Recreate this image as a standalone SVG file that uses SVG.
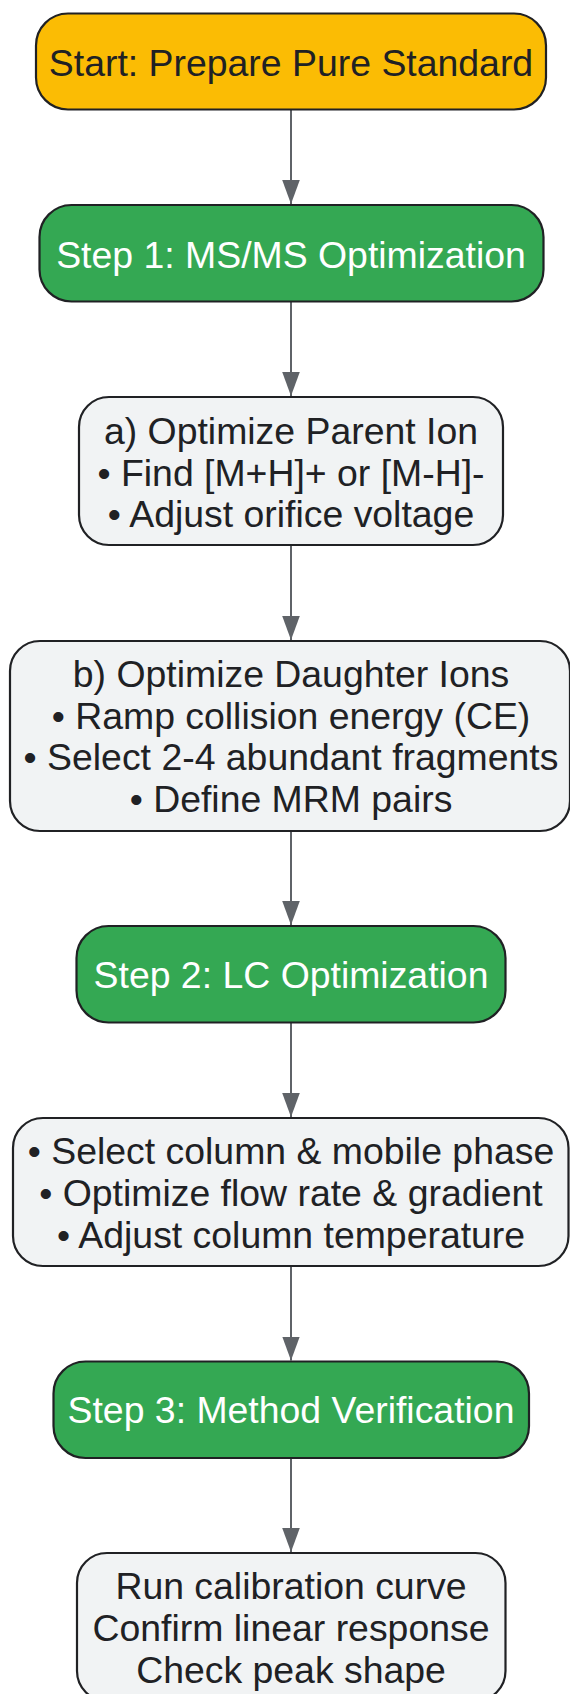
<svg xmlns="http://www.w3.org/2000/svg" width="570" height="1694" viewBox="0 0 570 1694">
  <style>
    .box { stroke: #202124; stroke-width: 2.2; }
    .start { fill: #FBBC04; }
    .step { fill: #34A853; }
    .info { fill: #F1F3F4; }
    text { font-family: "Liberation Sans", Arial, sans-serif; font-size: 37.4px; text-anchor: middle; }
    .dark { fill: #202124; }
    .light { fill: #FFFFFF; }
    .edge { stroke: #5F6368; stroke-width: 2; fill: none; }
  </style>
  <defs>
    <marker id="arrow" markerUnits="userSpaceOnUse" markerWidth="24" markerHeight="32" refX="30" refY="11" orient="auto-start-reverse" viewBox="0 0 30 22">
      <path d="M0,0 L30,11 L0,22 Z" fill="#5F6368"/>
    </marker>
  </defs>
  <rect width="570" height="1694" fill="#FFFFFF"/>
  <g id="connectors">
    <line class="edge" x1="291" y1="109.5" x2="291" y2="204" marker-end="url(#arrow)"/>
    <line class="edge" x1="291" y1="301.5" x2="291" y2="396" marker-end="url(#arrow)"/>
    <line class="edge" x1="291" y1="545" x2="291" y2="640" marker-end="url(#arrow)"/>
    <line class="edge" x1="291" y1="831" x2="291" y2="925" marker-end="url(#arrow)"/>
    <line class="edge" x1="291" y1="1022.5" x2="291" y2="1117" marker-end="url(#arrow)"/>
    <line class="edge" x1="291" y1="1266" x2="291" y2="1360.5" marker-end="url(#arrow)"/>
    <line class="edge" x1="291" y1="1458" x2="291" y2="1552" marker-end="url(#arrow)"/>
  </g>
  <g id="start">
    <rect class="box start" x="36" y="13.5" width="510" height="96" rx="32"/>
    <text class="dark" x="291" y="76">Start: Prepare Pure Standard</text>
  </g>
  <g id="step1">
    <rect class="box step" x="39.5" y="205" width="504" height="96.5" rx="32"/>
    <text class="light" x="291" y="267.5">Step 1: MS/MS Optimization</text>
  </g>
  <g id="parent-ion">
    <rect class="box info" x="79" y="397" width="424" height="148" rx="30"/>
    <text class="dark" x="291" y="444">a) Optimize Parent Ion</text>
    <text class="dark" x="291" y="485.5">• Find [M+H]+ or [M-H]-</text>
    <text class="dark" x="291" y="527">• Adjust orifice voltage</text>
  </g>
  <g id="daughter-ions">
    <rect class="box info" x="10" y="641" width="560" height="190" rx="30"/>
    <text class="dark" x="291" y="687">b) Optimize Daughter Ions</text>
    <text class="dark" x="291" y="728.5">• Ramp collision energy (CE)</text>
    <text class="dark" x="291" y="770">• Select 2-4 abundant fragments</text>
    <text class="dark" x="291" y="811.5">• Define MRM pairs</text>
  </g>
  <g id="step2">
    <rect class="box step" x="76.5" y="926" width="429" height="96.5" rx="32"/>
    <text class="light" x="291" y="988">Step 2: LC Optimization</text>
  </g>
  <g id="lc-details">
    <rect class="box info" x="13" y="1118" width="555.5" height="148" rx="30"/>
    <text class="dark" x="291" y="1164">• Select column &amp; mobile phase</text>
    <text class="dark" x="291" y="1206">• Optimize flow rate &amp; gradient</text>
    <text class="dark" x="291" y="1247.5">• Adjust column temperature</text>
  </g>
  <g id="step3">
    <rect class="box step" x="53.5" y="1361.5" width="475.5" height="96.5" rx="32"/>
    <text class="light" x="291" y="1423">Step 3: Method Verification</text>
  </g>
  <g id="verification">
    <rect class="box info" x="77" y="1553" width="428.5" height="148" rx="30"/>
    <text class="dark" x="291" y="1599">Run calibration curve</text>
    <text class="dark" x="291" y="1641">Confirm linear response</text>
    <text class="dark" x="291" y="1683">Check peak shape</text>
  </g>
</svg>
